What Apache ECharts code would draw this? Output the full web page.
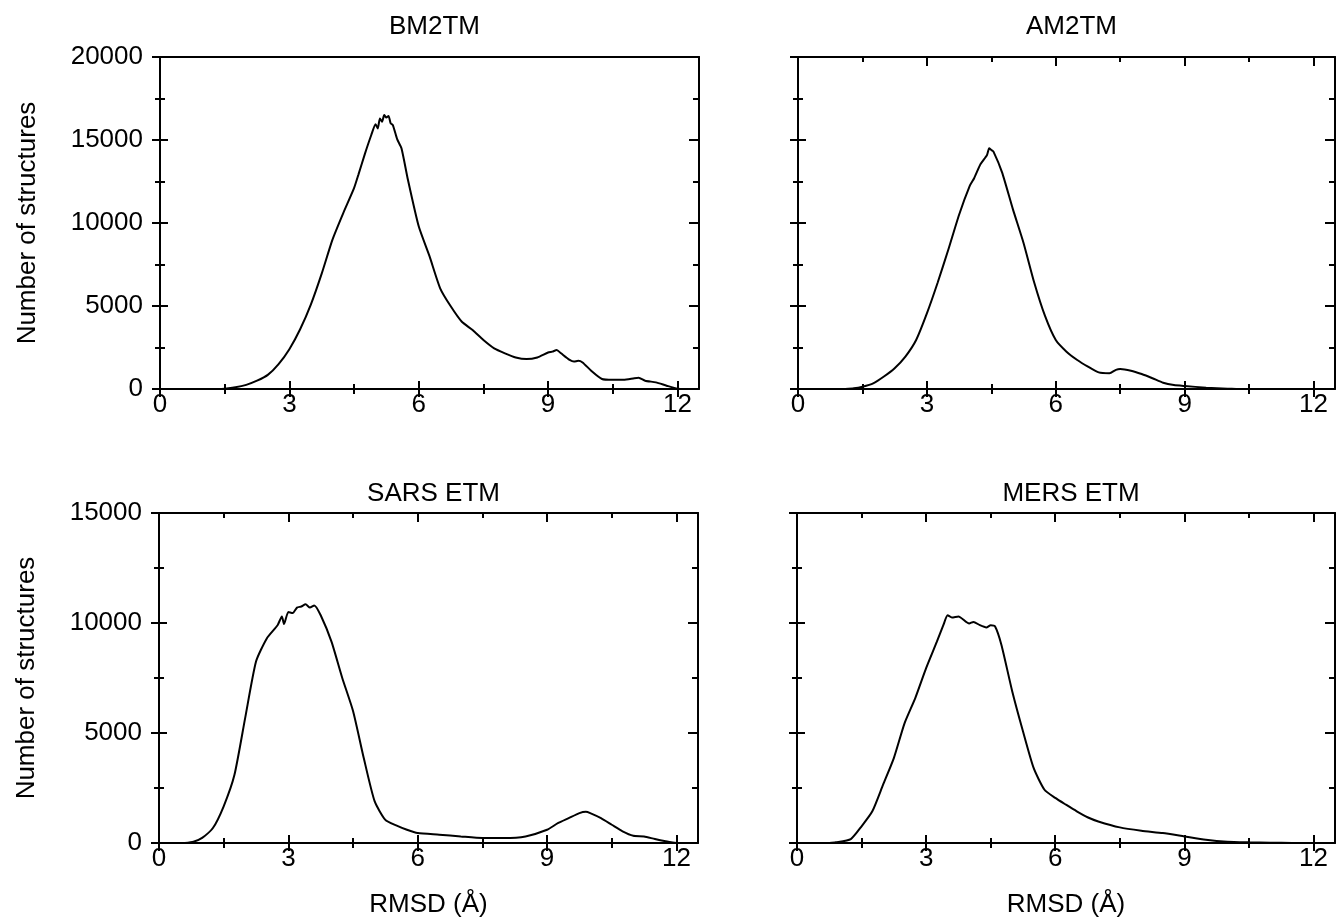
<!DOCTYPE html>
<html>
<head>
<meta charset="utf-8">
<script src="https://cdn.jsdelivr.net/npm/echarts@6/dist/echarts.min.js"></script>
<style>
html,body{margin:0;padding:0;background:#fff;}
#chart{width:1338px;height:920px;}
</style>
</head>
<body>
<div id="chart"></div>
<script>
// ---- data ----
const titles = ['BM2TM', 'AM2TM', 'SARS ETM', 'MERS ETM'];
const xTickValues = [0, 3, 6, 9, 12];
const xMinorValues = [1.5, 4.5, 7.5, 10.5];

const rmsdBM2TM = [1.3,1.5,1.75,2.0,2.25,2.5,2.75,3.0,3.25,3.5,3.75,4.0,4.25,4.5,4.6,4.75,4.9,5.0,5.05,5.1,5.15,5.2,5.25,5.3,5.35,5.4,5.5,5.6,5.75,6.0,6.25,6.5,6.75,7.0,7.25,7.5,7.75,8.0,8.25,8.5,8.75,9.0,9.1,9.2,9.3,9.5,9.6,9.7,9.8,10.0,10.25,10.5,10.75,11.0,11.1,11.25,11.5,11.75,12.0,12.2];
const countBM2TM = [0,20,100,250,500,850,1500,2400,3600,5100,6950,9000,10600,12100,12900,14150,15300,15950,15700,16300,16100,16500,16350,16450,16000,15900,15050,14500,12600,9800,8000,6050,4950,4050,3550,2950,2450,2150,1900,1800,1900,2200,2250,2350,2150,1750,1650,1700,1600,1100,600,550,550,650,680,500,400,200,20,0];

const rmsdAM2TM = [1.1,1.3,1.5,1.75,2.0,2.25,2.5,2.75,3.0,3.25,3.5,3.75,4.0,4.1,4.25,4.4,4.45,4.5,4.55,4.75,5.0,5.25,5.5,5.75,6.0,6.25,6.5,6.75,7.0,7.25,7.4,7.5,7.75,8.0,8.25,8.5,8.75,9.0,9.5,10.0,10.2];
const countAM2TM = [0,40,140,340,750,1250,1950,2950,4550,6400,8400,10500,12250,12700,13550,14100,14500,14400,14300,13050,10850,8800,6400,4400,2950,2250,1750,1350,1000,950,1150,1200,1100,900,650,380,240,180,80,20,0];

const rmsdSARS = [0.6,0.8,1.0,1.25,1.5,1.75,2.0,2.25,2.5,2.75,2.85,2.9,3.0,3.1,3.2,3.3,3.4,3.5,3.6,3.75,4.0,4.25,4.5,4.75,5.0,5.25,5.5,5.75,6.0,6.5,7.0,7.5,8.0,8.5,9.0,9.25,9.5,9.75,9.9,10.0,10.25,10.5,10.75,11.0,11.25,11.5,11.75,12.0];
const countSARS = [0,60,230,680,1670,3100,5700,8250,9300,9900,10300,9950,10500,10450,10700,10750,10850,10700,10800,10350,9150,7500,6000,3850,1900,1050,800,600,450,380,300,230,230,300,600,900,1130,1360,1420,1360,1130,830,530,330,300,180,80,0];

const rmsdMERS = [0.75,0.9,1.25,1.5,1.75,2.0,2.25,2.5,2.75,3.0,3.25,3.4,3.5,3.6,3.75,4.0,4.1,4.25,4.4,4.5,4.6,4.75,5.0,5.25,5.5,5.75,6.0,6.25,6.5,6.75,7.0,7.5,8.0,8.5,9.0,9.5,10.0,10.5,11.0,11.5,11.9];
const countMERS = [0,30,180,760,1440,2650,3860,5450,6600,7950,9150,9900,10350,10250,10300,9980,10050,9900,9800,9900,9850,9000,6900,5080,3400,2420,2050,1740,1440,1170,980,710,560,450,300,150,60,30,10,5,0];

const yMaxes = [20000, 20000, 15000, 15000];
const yMinorValues = {20000: [2500, 7500, 12500, 17500], 15000: [2500, 7500, 12500]};

// ---- layout ----
const FONT = '"Liberation Sans", Arial, Helvetica, sans-serif';
const FS = 26;
const rects = [
  {left:160, top:57, width:539, height:332},
  {left:798, top:57, width:537, height:332},
  {left:159, top:513, width:539, height:330},
  {left:797, top:513, width:538, height:330}
];
const seriesX = [rmsdBM2TM, rmsdAM2TM, rmsdSARS, rmsdMERS];
const seriesY = [countBM2TM, countAM2TM, countSARS, countMERS];

const grids = [], xAxes = [], yAxes = [], series = [], titleList = [];
const LW = 2;
const blk = '#000';

function baseX(g, pos) {
  return {type:'value', gridIndex:g, position:pos, min:0, max:12.5,
    splitLine:{show:false}, minorTick:{show:false}, minorSplitLine:{show:false},
    axisLine:{show:false, onZero:false}, axisTick:{show:false}, axisLabel:{show:false}};
}
function baseY(g, pos, ymax) {
  return {type:'value', gridIndex:g, position:pos, min:0, max:ymax, interval:5000,
    splitLine:{show:false}, minorTick:{show:false}, minorSplitLine:{show:false},
    axisLine:{show:false, onZero:false}, axisTick:{show:false}, axisLabel:{show:false}};
}
function tick(inside, len, custom) {
  const t = {show:true, inside:inside, length:len, lineStyle:{color:blk, width:LW}};
  if (custom) t.customValues = custom;
  return t;
}

for (let i = 0; i < 4; i++) {
  const r = rects[i];
  grids.push({left:r.left, top:r.top, width:r.width, height:r.height, show:false, containLabel:false, outerBoundsMode:'none'});
  titleList.push({text:titles[i], left:r.left + r.width/2, top: i < 2 ? r.top - 48 : r.top - 37, textAlign:'center',
    textStyle:{fontFamily:FONT, fontSize:FS, fontWeight:'normal', color:blk}});
  const ymax = yMaxes[i];
  const isLeft = (i % 2 === 0), isBottom = (i >= 2);

  const xMainIdx = xAxes.length;
  const xm = baseX(i, 'bottom');
  xm.axisLine = {show:true, onZero:false, lineStyle:{color:blk, width:LW}};
  xm.axisTick = tick(false, 8, xTickValues);
  xm.axisLabel = {show:true, customValues:xTickValues, margin:3, color:blk, fontSize:FS, fontFamily:FONT};
  if (isBottom) {
    xm.name = 'RMSD (Å)'; xm.nameLocation = 'middle'; xm.nameGap = 49;
    xm.nameTextStyle = {color:blk, fontSize:FS, fontFamily:FONT};
  }
  xAxes.push(xm);
  let a;
  a = baseX(i, 'bottom'); a.axisTick = tick(true, 8, xTickValues); xAxes.push(a);
  a = baseX(i, 'bottom'); a.axisTick = tick(false, 5, xMinorValues); xAxes.push(a);
  a = baseX(i, 'bottom'); a.axisTick = tick(true, 5, xMinorValues); xAxes.push(a);
  const xtop = baseX(i, 'top');
  xtop.axisLine = {show:true, onZero:false, lineStyle:{color:blk, width:LW}};
  if (i !== 0) xtop.axisTick = tick(true, 9, xTickValues);
  xAxes.push(xtop);
  if (i !== 0) { a = baseX(i, 'top'); a.axisTick = tick(true, 5, xMinorValues); xAxes.push(a); }

  const yMainIdx = yAxes.length;
  const ym = baseY(i, 'left', ymax);
  ym.axisLine = {show:true, onZero:false, lineStyle:{color:blk, width:LW}};
  ym.axisTick = tick(false, 8);
  if (isLeft) {
    ym.axisLabel = {show:true, margin:17, color:blk, fontSize:FS, fontFamily:FONT, formatter: v => String(v)};
    ym.name = 'Number of structures'; ym.nameLocation = 'middle'; ym.nameGap = 119;
    ym.nameTextStyle = {color:blk, fontSize:FS, fontFamily:FONT};
  }
  yAxes.push(ym);
  a = baseY(i, 'left', ymax); a.axisTick = tick(true, 8); yAxes.push(a);
  a = baseY(i, 'left', ymax); a.axisTick = tick(false, 5, yMinorValues[ymax]); yAxes.push(a);
  a = baseY(i, 'left', ymax); a.axisTick = tick(true, 5, yMinorValues[ymax]); yAxes.push(a);
  const yr = baseY(i, 'right', ymax);
  yr.axisLine = {show:true, onZero:false, lineStyle:{color:blk, width:LW}};
  yr.axisTick = tick(true, 10);
  yAxes.push(yr);
  a = baseY(i, 'right', ymax); a.axisTick = tick(true, 6, yMinorValues[ymax]); yAxes.push(a);

  series.push({
    type:'line', xAxisIndex:xMainIdx, yAxisIndex:yMainIdx, symbol:'none', showSymbol:false,
    silent:true, animation:false, smooth:0.2,
    lineStyle:{color:blk, width:2},
    data: seriesX[i].map((x, k) => [x, seriesY[i][k]])
  });
}

const chart = echarts.init(document.getElementById('chart'), null, {renderer:'canvas'});
chart.setOption({
  backgroundColor:'#fff',
  animation:false,
  title:titleList,
  grid:grids,
  xAxis:xAxes,
  yAxis:yAxes,
  series:series
});
</script>
</body>
</html>
